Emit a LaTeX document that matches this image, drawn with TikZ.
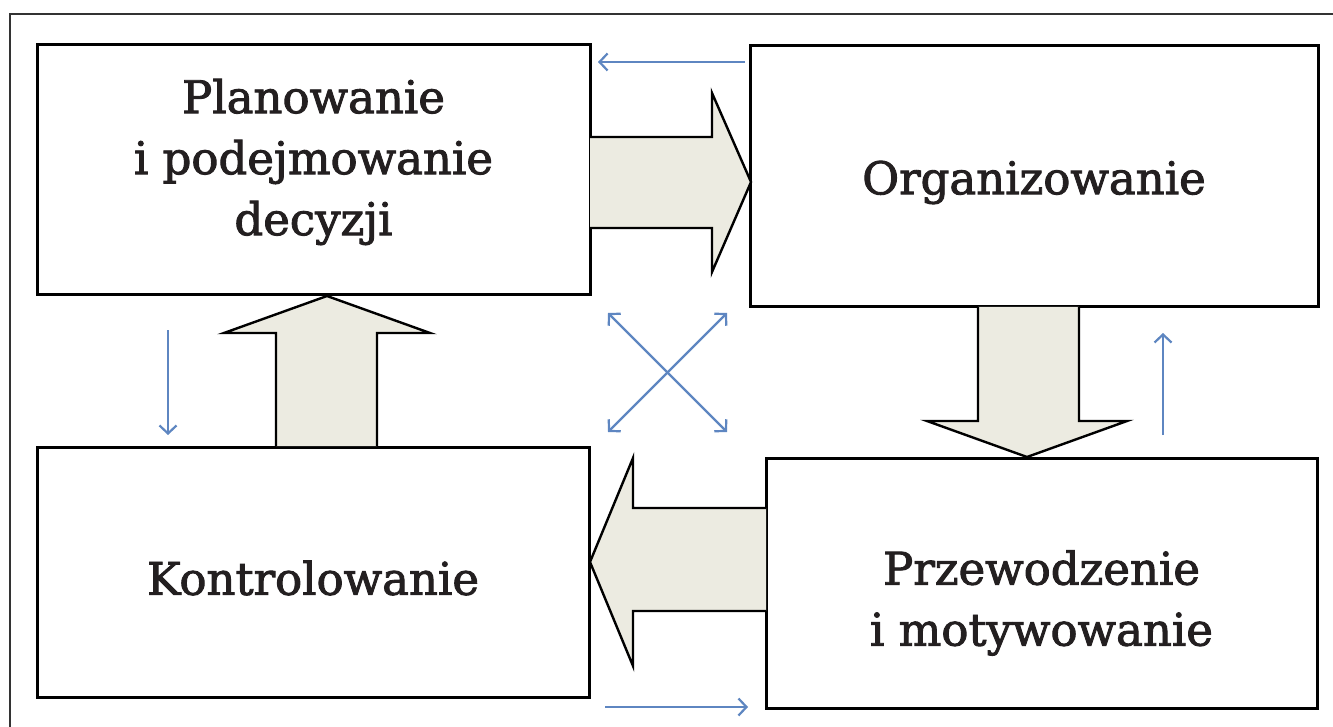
\documentclass[tikz,border=0pt]{standalone}
\usepackage{fontspec}
\setmainfont{DejaVu Serif}[BoldFont={DejaVu Serif},BoldFeatures={FakeBold=2}]
\usetikzlibrary{arrows.meta}
\definecolor{bluearr}{HTML}{5E86C1}
\definecolor{beige}{HTML}{ECEBE1}
\definecolor{frame}{HTML}{333333}
\definecolor{ink}{HTML}{231F20}
\tikzset{
  box/.style={draw=black, line width=3pt, fill=white, inner sep=0pt},
  lbl/.style={align=center, inner sep=0pt, text=ink, font=\fontsize{45}{61}\selectfont\bfseries},
  bigarrow/.style={draw=black, line width=2.4pt, fill=beige, line join=miter},
  thin/.style={draw=bluearr, line width=2.2pt, -{Straight Barb[length=8pt,width=17pt,line width=2.2pt]}},
  thinboth/.style={draw=bluearr, line width=2.2pt, {Straight Barb[length=8pt,width=17pt,line width=2.2pt]}-{Straight Barb[length=8pt,width=17pt,line width=2.2pt]}},
}
\begin{document}
\begin{tikzpicture}[x=1pt,y=-1pt]
\useasboundingbox (0,0) rectangle (1333,727);
\fill[white] (0,0) rectangle (1333,727);
% outer frame (only top and left visible)
\draw[frame, line width=2.2pt] (10,727) -- (10,14) -- (1333,14);
% boxes
\node[box, minimum width=553pt, minimum height=250pt] (P) at (313.5,170) {};
\node[box, minimum width=568pt, minimum height=261pt] (O) at (1034,176.5) {};
\node[box, minimum width=552pt, minimum height=250pt] (K) at (313,572) {};
\node[box, minimum width=551pt, minimum height=250pt] (M) at (1041.5,583) {};
% labels
\node[lbl] (Pt) at ([yshift=8pt]P.center) {Planowanie\\i podejmowanie\\decyzji};
\node[lbl] (Ot) at ([yshift=-6pt]O.center) {Organizowanie};
\node[lbl] (Kt) at ([yshift=-6pt]K.center) {Kontrolowanie};
\node[lbl] (Mt) at ([yshift=-20pt]M.center) {Przewodzenie\\i motywowanie};
% big arrows
\draw[bigarrow] (590,137) -- (712,137) -- (712,93) -- (751,182) -- (712,272) -- (712,228) -- (590,228);
\draw[bigarrow] (276,446) -- (276,333) -- (224,333) -- (327,296) -- (430,333) -- (377,333) -- (377,446);
\draw[bigarrow] (978,307) -- (978,421) -- (927,421) -- (1027,457) -- (1127,421) -- (1079,421) -- (1079,307);
\draw[bigarrow] (766,508) -- (633,508) -- (633,458) -- (590,562) -- (633,666) -- (633,611) -- (766,611);
% thin blue arrows
\coordinate (t1) at (745,62); \coordinate (t2) at (598,62);
\coordinate (b1) at (605,707); \coordinate (b2) at (748,707);
\coordinate (l1) at (168,330); \coordinate (l2) at (168,435);
\coordinate (r1) at (1163,435); \coordinate (r2) at (1163,333);
\coordinate (x1) at (608,313); \coordinate (x2) at (727,432);
\coordinate (x3) at (727,313); \coordinate (x4) at (608,432);
\draw[thin] (t1) -- (t2);
\draw[thin] (b1) -- (b2);
\draw[thin] (l1) -- (l2);
\draw[thin] (r1) -- (r2);
\draw[thinboth] (x1) -- (x2);
\draw[thinboth] (x3) -- (x4);
\end{tikzpicture}
\end{document}
